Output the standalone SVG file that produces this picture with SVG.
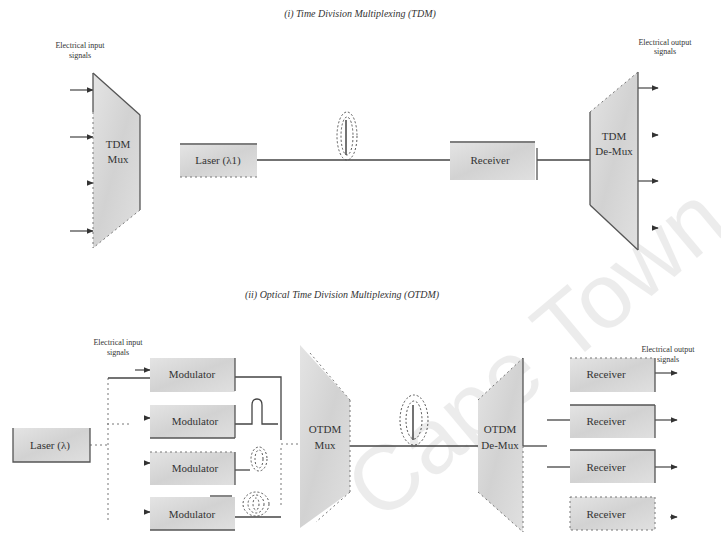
<svg xmlns="http://www.w3.org/2000/svg" width="721" height="536" viewBox="0 0 721 536">
<defs>
<marker id="ah" viewBox="0 0 10 10" refX="9" refY="5" markerWidth="6" markerHeight="6" orient="auto"><path d="M0,1 L10,5 L0,9 z" fill="#333"/></marker>
<linearGradient id="g" x1="0" y1="0" x2="1" y2="1"><stop offset="0" stop-color="#e4e4e4"/><stop offset="0.5" stop-color="#d2d2d2"/><stop offset="1" stop-color="#e0e0e0"/></linearGradient>
</defs>
<style>
text{font-family:"Liberation Serif","Times New Roman",serif;fill:#333;}
.t{font-size:10px;font-style:italic;text-anchor:middle;}
.l{font-size:8px;text-anchor:middle;}
.n{font-size:11px;text-anchor:middle;}
.box{fill:url(#g);stroke:none;}
.edge{stroke:#555;stroke-width:1.3;fill:none;}
.dash{stroke:#777;stroke-width:1;fill:none;stroke-dasharray:2 3;}
.ln{stroke:#444;stroke-width:1.3;fill:none;}
.ar{stroke:#444;stroke-width:1.2;fill:none;marker-end:url(#ah);}
.coil{stroke:#555;stroke-width:1;fill:none;stroke-dasharray:2 2;}
.wm{font-family:"Liberation Sans",Arial,sans-serif;font-size:92px;fill:#000;opacity:0.07;}
</style>
<rect width="721" height="536" fill="#fff"/>
<text class="wm" transform="translate(380,524) rotate(-40)">Cape Town</text>

<text class="t" x="360" y="17" font-size="11">(i) Time Division Multiplexing (TDM)</text>
<text class="t" x="342" y="298">(ii) Optical Time Division Multiplexing (OTDM)</text>

<g id="conn">
<line class="ar" x1="70" y1="90" x2="93" y2="90"/>
<line class="ar" x1="70" y1="137" x2="93" y2="137"/>
<line class="ar" x1="88" y1="183" x2="93" y2="183"/>
<line class="ar" x1="70" y1="231" x2="93" y2="231"/>
<line class="ln" x1="257" y1="160" x2="450" y2="160"/>
<line class="ln" x1="537" y1="160" x2="590" y2="160"/>
<line class="ar" x1="638" y1="88" x2="658" y2="88"/>
<line class="ar" x1="652" y1="135" x2="658" y2="135"/>
<line class="ar" x1="638" y1="181" x2="658" y2="181"/>
<line class="ar" x1="652" y1="228" x2="658" y2="228"/>
<g id="coil1">
<ellipse class="coil" cx="347" cy="136" rx="10" ry="24"/>
<ellipse class="coil" cx="347" cy="136" rx="6" ry="19"/>
<line x1="346" y1="120" x2="346" y2="155" stroke="#444" stroke-width="1.5"/>
</g>
<line class="dash" x1="108" y1="378" x2="108" y2="520"/>
<line class="ln" x1="108" y1="378" x2="150" y2="378"/>
<line class="dash" x1="107" y1="424" x2="130" y2="424"/>
<line class="ar" x1="135" y1="370" x2="150" y2="370"/>
<line class="ar" x1="144" y1="418" x2="150" y2="418"/>
<line class="ar" x1="144" y1="463" x2="150" y2="463"/>
<line class="ar" x1="144" y1="512" x2="150" y2="512"/>
<line class="dash" x1="90" y1="445" x2="107" y2="445"/>
<path class="ln" d="M235,377 H281 V440"/>
<path class="ln" d="M235,424 H252 V405 Q252,399 257,399 Q262,399 262,405 V424 H278"/>
<path class="ln" d="M235,470 H250"/>
<g id="coil2">
<ellipse class="coil" cx="259" cy="459" rx="8" ry="12"/>
<ellipse class="coil" cx="259" cy="459" rx="4" ry="9"/>
</g>
<line class="ln" x1="235" y1="517" x2="281" y2="517"/>
<line class="ln" x1="210" y1="496" x2="232" y2="496"/>
<g id="coil3">
<ellipse class="coil" cx="256" cy="504" rx="13" ry="12"/>
<ellipse class="coil" cx="256" cy="504" rx="8" ry="9"/>
<ellipse class="coil" cx="256" cy="504" rx="3" ry="6"/>
</g>
<line class="dash" x1="281" y1="444" x2="302" y2="444"/>
<line class="dash" x1="281" y1="448" x2="281" y2="505"/>
<line class="ln" x1="350" y1="446" x2="523" y2="446"/>
<g id="coil4">
<ellipse class="coil" cx="414" cy="420" rx="14" ry="25"/>
<ellipse class="coil" cx="414" cy="420" rx="8" ry="19"/>
<line x1="413" y1="405" x2="413" y2="440" stroke="#444" stroke-width="1.5"/>
</g>
<line class="ln" x1="523" y1="446" x2="547" y2="446"/>
<line class="ln" x1="547" y1="420" x2="570" y2="420"/>
<line class="ln" x1="547" y1="467" x2="570" y2="467"/>
<line class="ar" x1="655" y1="373" x2="677" y2="373"/>
<line class="ar" x1="655" y1="420" x2="677" y2="420"/>
<line class="ar" x1="655" y1="467" x2="677" y2="467"/>
<line class="ar" x1="670" y1="517" x2="677" y2="517"/>
</g>

<g id="lbl-in-top"><text class="l" x="80" y="48">Electrical input</text><text class="l" x="80" y="58">signals</text></g>
<g id="lbl-out-top"><text class="l" x="665" y="45">Electrical output</text><text class="l" x="665" y="54">signals</text></g>
<g id="lbl-in-bot"><text class="l" x="118" y="345">Electrical input</text><text class="l" x="118" y="355">signals</text></g>
<g id="lbl-out-bot"><text class="l" x="668" y="352">Electrical output</text><text class="l" x="668" y="362">signals</text></g>

<g id="tdm-mux">
<polygon class="box" points="93,73 140,115 140,210 93,248"/>
<line class="edge" x1="93" y1="73" x2="93" y2="112"/>
<line class="dash" x1="93" y1="112" x2="93" y2="248"/>
<line class="edge" x1="93" y1="73" x2="140" y2="115"/>
<line class="edge" x1="140" y1="115" x2="140" y2="210"/>
<line class="dash" x1="140" y1="210" x2="93" y2="248"/>
<text class="n" x="118" y="148">TDM</text><text class="n" x="118" y="163">Mux</text>
</g>
<g id="laser1">
<rect class="box" x="180" y="145" width="77" height="32"/>
<line class="edge" x1="180" y1="144" x2="257" y2="144"/>
<line class="dash" x1="180" y1="177" x2="257" y2="177"/>
<text class="n" x="218" y="164">Laser (λ1)</text>
</g>
<g id="rx-top">
<rect class="box" x="450" y="143" width="85" height="37"/>
<line class="edge" x1="450" y1="142" x2="535" y2="142"/>
<line class="edge" x1="537" y1="148" x2="537" y2="180"/>
<text class="n" x="490" y="164">Receiver</text>
</g>
<g id="tdm-demux">
<polygon class="box" points="590,112 638,72 638,250 590,205"/>
<line class="edge" x1="590" y1="112" x2="590" y2="205"/>
<line class="dash" x1="590" y1="112" x2="638" y2="72"/>
<line class="edge" x1="638" y1="72" x2="638" y2="250"/>
<line class="edge" x1="590" y1="205" x2="638" y2="250"/>
<text class="n" x="614" y="140">TDM</text><text class="n" x="614" y="155">De-Mux</text>
</g>

<g id="laser2">
<rect class="box" x="13" y="428" width="77" height="34"/>
<path class="edge" d="M13,428 V462 H90 V428"/>
<text class="n" x="50" y="449">Laser (λ)</text>
</g>
<g id="mod1"><rect class="box" x="150" y="358" width="85" height="34"/><line class="edge" x1="235" y1="358" x2="235" y2="391"/><text class="n" x="192" y="378">Modulator</text></g>
<g id="mod2"><rect class="box" x="150" y="405" width="85" height="33"/><line class="edge" x1="235" y1="405" x2="235" y2="438"/><line class="edge" x1="150" y1="438" x2="235" y2="438"/><text class="n" x="195" y="425">Modulator</text></g>
<g id="mod3"><rect class="box" x="150" y="452" width="85" height="33"/><line class="edge" x1="235" y1="452" x2="235" y2="485"/><line class="dash" x1="150" y1="452" x2="235" y2="452"/><text class="n" x="195" y="472">Modulator</text></g>
<g id="mod4"><rect class="box" x="150" y="497" width="85" height="33"/><line class="edge" x1="150" y1="530" x2="235" y2="530"/><text class="n" x="192" y="518">Modulator</text></g>

<g id="otdm-mux">
<polygon class="box" points="300,345 350,400 350,492 300,528"/>
<line class="dash" x1="310" y1="353" x2="350" y2="400"/>
<line class="dash" x1="350" y1="400" x2="350" y2="492"/>
<line class="dash" x1="350" y1="492" x2="316" y2="522"/>
<text class="n" x="325" y="433">OTDM</text><text class="n" x="325" y="449">Mux</text>
</g>
<g id="otdm-demux">
<polygon class="box" points="478,400 523,358 523,532 478,492"/>
<line class="dash" x1="478" y1="400" x2="523" y2="358"/>
<line class="edge" x1="523" y1="358" x2="523" y2="446"/>
<line class="dash" x1="523" y1="446" x2="523" y2="532"/>
<line class="dash" x1="478" y1="492" x2="523" y2="532"/>
<text class="n" x="500" y="433">OTDM</text><text class="n" x="500" y="449">De-Mux</text>
</g>
<g id="rx1"><rect class="box" x="570" y="358" width="85" height="34"/><line class="edge" x1="655" y1="358" x2="655" y2="392"/><line class="dash" x1="570" y1="358" x2="655" y2="358"/><text class="n" x="606" y="378">Receiver</text></g>
<g id="rx2"><rect class="box" x="570" y="405" width="85" height="33"/><line class="edge" x1="655" y1="405" x2="655" y2="438"/><line class="edge" x1="570" y1="405" x2="655" y2="405"/><text class="n" x="606" y="425">Receiver</text></g>
<g id="rx3"><rect class="box" x="570" y="450" width="85" height="33"/><path class="edge" d="M570,450 H655 V483"/><text class="n" x="606" y="471">Receiver</text></g>
<g id="rx4"><rect class="box" x="570" y="497" width="85" height="33"/><path class="dash" d="M570,497 H655 V530 H570 Z"/><text class="n" x="606" y="518">Receiver</text></g>
</svg>
